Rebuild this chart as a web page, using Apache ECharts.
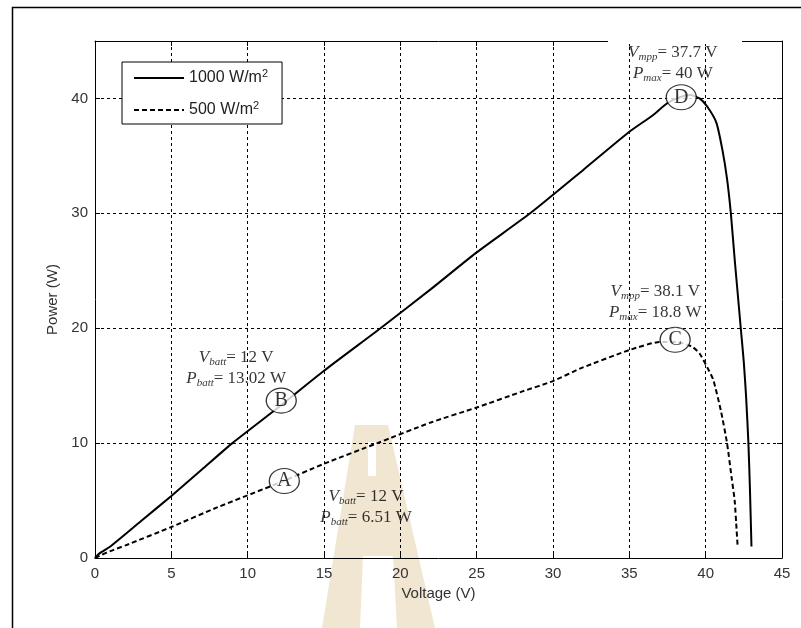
<!DOCTYPE html>
<html>
<head>
<meta charset="utf-8">
<script src="https://cdn.jsdelivr.net/npm/echarts@6/dist/echarts.min.js"></script>
<style>
  html, body { margin: 0; padding: 0; background: #fff; }
  #chart { width: 801px; height: 628px; }
</style>
</head>
<body>
<div id="chart"></div>
<script>
// P-V curves
const volt1000 = [0, 0.3, 1, 3, 5, 7, 9, 12, 15, 18.7, 22, 25, 28.5, 32, 35, 36.5, 37.5, 38.3, 39, 39.6, 40.1, 40.7, 41.1, 41.4, 41.65, 41.9, 42.1, 42.3, 42.5, 42.65, 42.8, 42.9, 43.0]
const power1000 = [0, 0.4, 1.0, 3.2, 5.4, 7.7, 10, 13.1, 16.3, 20, 23.4, 26.6, 30, 33.8, 37.1, 38.5, 39.6, 40.1, 40.3, 40.0, 39.3, 37.9, 35.5, 33, 30, 26, 23, 20, 17, 14, 10, 6, 1]

const volt500 = [0, 0.3, 1, 2, 5, 8, 12, 15, 18.5, 22, 25, 28, 30, 31.8, 35, 37, 38.1, 39.1, 39.6, 40.1, 40.5, 41, 41.4, 41.7, 41.9, 42.0, 42.1]
const power500 = [0, 0.2, 0.6, 1.1, 2.7, 4.4, 6.51, 8.2, 10, 11.8, 13.1, 14.5, 15.4, 16.5, 18.1, 18.8, 18.8, 18.4, 17.8, 16.6, 15.5, 12.8, 10, 7, 5, 3, 0.9]

// circled operating points A, B, C, D
const pointNames = ['A', 'B', 'C', 'D']
const pointV = [12.4, 12.2, 38.0, 38.4]
const pointP = [6.7, 13.7, 19.0, 40.1]

// annotation text anchors (centre of each two-line note)
const noteV = [17.75, 9.25, 36.7, 37.85]
const noteP = [4.45, 16.5, 22.3, 43.1]
const noteSub1 = ['batt', 'batt', 'mpp', 'mpp']
const noteSub2 = ['batt', 'batt', 'max', 'max']
const noteVal1 = ['12 V', '12 V', '38.1 V', '37.7 V']
const noteVal2 = ['6.51 W', '13.02 W', '18.8 W', '40 W']

const xTicks = { min: 0, max: 45, interval: 5 }
const yTicks = { min: 0, max: 45, interval: 10 }

const chart = echarts.init(document.getElementById('chart'))

const zip = (a, b) => a.map((v, i) => [v, b[i]])
const sansFont = '"Liberation Sans", Arial, sans-serif'
const serifFont = '"Liberation Serif", "Times New Roman", serif'
const gridDash = { color: '#000', width: 1, type: [3, 3] }
const frameLine = { show: true, onZero: false, lineStyle: { color: '#000', width: 1 } }
const inTick = { show: true, inside: true, length: 5, lineStyle: { color: '#000' } }

const noteRich = {
  it: { fontFamily: serifFont, fontStyle: 'italic', fontSize: 17, color: '#000', lineHeight: 21 },
  sub: { fontFamily: serifFont, fontStyle: 'italic', fontSize: 11, color: '#000', lineHeight: 21, padding: [9, 0, 0, 0] },
  t: { fontFamily: serifFont, fontSize: 17, color: '#000', lineHeight: 21 }
}

chart.setOption({
  animation: false,
  backgroundColor: '#fff',
  grid: { left: 95, right: 19, top: 41, bottom: 70 },
  legend: {
    orient: 'vertical',
    left: 122,
    top: 62,
    padding: [6, 14, 6, 11],
    itemGap: 14,
    itemWidth: 50,
    itemHeight: 14,
    backgroundColor: '#fff',
    borderColor: '#000',
    borderWidth: 1,
    itemStyle: { opacity: 0 },
    data: ['1000', '500'],
    formatter: name => '{t|' + name + ' W/m}{sup|2}',
    textStyle: {
      rich: {
        t: { fontFamily: sansFont, fontSize: 16, color: '#222' },
        sup: { fontFamily: sansFont, fontSize: 11, color: '#222', padding: [0, 0, 9, 0] }
      }
    }
  },
  xAxis: [{
    type: 'value',
    ...xTicks,
    name: 'Voltage (V)',
    nameLocation: 'middle',
    nameGap: 28,
    nameTextStyle: { fontFamily: sansFont, fontSize: 15, color: '#333' },
    axisLine: frameLine,
    axisTick: inTick,
    axisLabel: { fontFamily: sansFont, fontSize: 15, color: '#333', margin: 8 },
    splitLine: { show: true, showMinLine: false, showMaxLine: false, lineStyle: gridDash }
  }, {
    type: 'value',
    position: 'top',
    ...xTicks,
    axisLine: frameLine,
    axisTick: inTick,
    axisLabel: { show: false },
    splitLine: { show: false }
  }],
  yAxis: [{
    type: 'value',
    ...yTicks,
    name: 'Power (W)',
    nameLocation: 'middle',
    nameGap: 35,
    nameTextStyle: { fontFamily: sansFont, fontSize: 15, color: '#333' },
    axisLine: frameLine,
    axisTick: inTick,
    axisLabel: { fontFamily: sansFont, fontSize: 15, color: '#333', margin: 7, showMaxLabel: false },
    splitLine: { show: true, showMinLine: false, showMaxLine: false, lineStyle: gridDash }
  }, {
    type: 'value',
    position: 'right',
    ...yTicks,
    axisLine: frameLine,
    axisTick: inTick,
    axisLabel: { show: false },
    splitLine: { show: false }
  }],
  series: [{
    name: '1000',
    type: 'line',
    symbol: 'none',
    smooth: 0.2,
    data: zip(volt1000, power1000),
    lineStyle: { color: '#000', width: 2 },
    itemStyle: { color: '#000' },
    z: 3
  }, {
    name: '500',
    type: 'line',
    symbol: 'none',
    smooth: 0.2,
    data: zip(volt500, power500),
    lineStyle: { color: '#000', width: 2, type: [5, 3] },
    itemStyle: { color: '#000' },
    z: 3
  }, {
    name: 'points',
    type: 'scatter',
    symbol: 'circle',
    symbolSize: [30, 25],
    itemStyle: { color: '#fff', borderColor: '#000', borderWidth: 1.2 },
    data: pointNames.map((n, i) => ({ name: n, value: [pointV[i], pointP[i]] })),
    label: {
      show: true,
      position: 'inside',
      formatter: p => p.name,
      fontFamily: serifFont,
      fontSize: 20,
      color: '#000'
    },
    z: 5
  }, {
    name: 'notes',
    type: 'scatter',
    symbolSize: 0,
    data: noteV.map((v, i) => [v, noteP[i]]),
    label: {
      show: true,
      position: 'inside',
      align: 'center',
      formatter: p => {
        const i = p.dataIndex
        return '{it|V}{sub|' + noteSub1[i] + '}{t|= ' + noteVal1[i] + '}\n' +
          '{it|P}{sub|' + noteSub2[i] + '}{t|= ' + noteVal2[i] + '}'
      },
      rich: noteRich
    },
    z: 6
  }],
  graphic: [{
    // faint background watermark
    type: 'polygon',
    shape: { points: [[355, 425], [388, 425], [435, 628], [322, 628]] },
    style: { fill: '#f0e6d2' },
    z: -10
  }, {
    type: 'rect',
    shape: { x: 368, y: 442, width: 8, height: 34 },
    style: { fill: '#fff' },
    z: -9
  }, {
    type: 'polygon',
    shape: { points: [[363, 556], [393, 556], [397, 628], [360, 628]] },
    style: { fill: '#fff' },
    z: -9
  }, {
    type: 'rect',
    shape: { x: 608, y: 36, width: 134, height: 8 },
    style: { fill: '#fff' },
    z: 100
  }, {
    type: 'polyline',
    shape: { points: [[12.5, 628], [12.5, 7.5], [801, 7.5]] },
    style: { stroke: '#000', lineWidth: 1.5, fill: null },
    z: 100
  }]
})
</script>
</body>
</html>
